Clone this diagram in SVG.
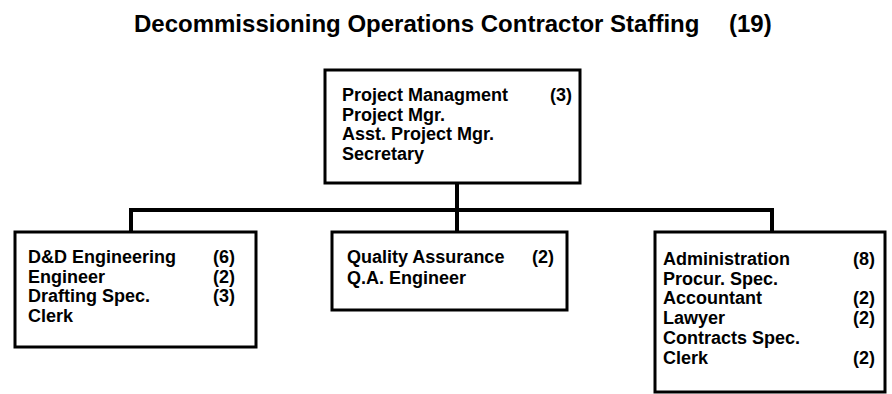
<svg xmlns="http://www.w3.org/2000/svg" width="892" height="394" viewBox="0 0 892 394">
<style>
.box{fill:#fff;stroke:#000;stroke-width:3}
.conn{fill:none;stroke:#000;stroke-width:4;stroke-linejoin:miter}
.t{font-family:"Liberation Sans",Arial,sans-serif;font-weight:bold;font-size:18px;fill:#000}
.title{font-family:"Liberation Sans",Arial,sans-serif;font-weight:bold;font-size:24px;fill:#000}
</style>
<rect width="892" height="394" fill="#fff"/>
<text class="title" x="134" y="32">Decommissioning Operations Contractor Staffing<tspan x="729">(19)</tspan></text>
<g id="connectors">
<path class="conn" d="M457 183 V232"/>
<path class="conn" d="M131 232 V210 H772 V232"/>
</g>
<g id="project-management">
<rect class="box" x="325" y="70" width="255" height="113"/>
<text class="t" x="342" y="101">Project Managment<tspan x="550">(3)</tspan></text>
<text class="t" x="342" y="120.7">Project Mgr.</text>
<text class="t" x="342" y="140.4">Asst. Project Mgr.</text>
<text class="t" x="342" y="160.1">Secretary</text>
</g>
<g id="dd-engineering">
<rect class="box" x="15" y="232" width="241" height="115"/>
<text class="t" x="28" y="263">D&amp;D Engineering<tspan x="213">(6)</tspan></text>
<text class="t" x="28" y="282.7">Engineer<tspan x="213">(2)</tspan></text>
<text class="t" x="28" y="302.4">Drafting Spec.<tspan x="213">(3)</tspan></text>
<text class="t" x="28" y="322.1">Clerk</text>
</g>
<g id="quality-assurance">
<rect class="box" x="332" y="232" width="235" height="78"/>
<text class="t" x="347" y="263">Quality Assurance<tspan x="532">(2)</tspan></text>
<text class="t" x="347" y="283.7">Q.A. Engineer</text>
</g>
<g id="administration">
<rect class="box" x="655" y="232" width="230" height="160"/>
<text class="t" x="663" y="265">Administration<tspan x="853">(8)</tspan></text>
<text class="t" x="663" y="284.7">Procur. Spec.</text>
<text class="t" x="663" y="304.4">Accountant<tspan x="853">(2)</tspan></text>
<text class="t" x="663" y="324.1">Lawyer<tspan x="853">(2)</tspan></text>
<text class="t" x="663" y="343.8">Contracts Spec.</text>
<text class="t" x="663" y="363.5">Clerk<tspan x="853">(2)</tspan></text>
</g>
</svg>
